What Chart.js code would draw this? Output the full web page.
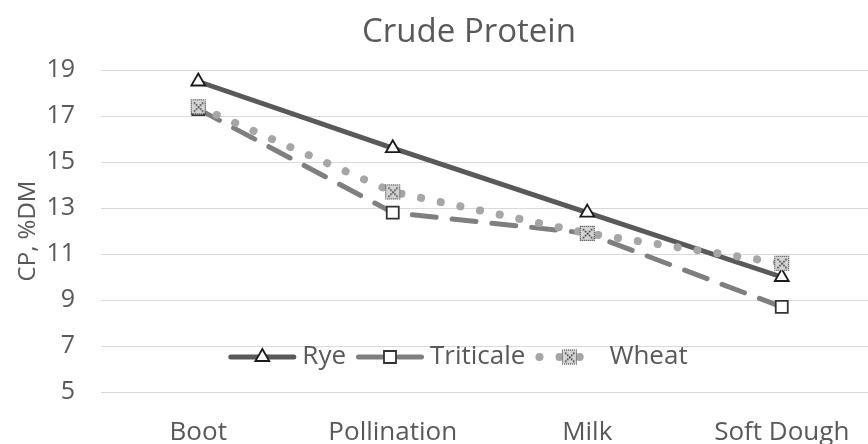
<!DOCTYPE html>
<html><head><meta charset="utf-8">
<script src="https://cdn.jsdelivr.net/npm/chart.js@4/dist/chart.umd.min.js"></script>
<style>
html,body{margin:0;padding:0;overflow:hidden;background:#fff;width:868px;height:444px}
#wrap{width:938px;height:444px}
</style></head>
<body><div id="wrap"><canvas id="c" width="938" height="444"></canvas></div>
<script>
const categories = ['Boot', 'Pollination', 'Milk', 'Soft Dough'];
const rye = [18.5, 15.6, 12.8, 10.0];
const triticale = [17.3, 12.8, 11.9, 8.7];
const wheat = [17.4, 13.7, 11.9, 10.6];
const yTicks = [5, 7, 9, 11, 13, 15, 17, 19];
const seriesNames = ['Rye', 'Triticale', 'Wheat'];
const chartTitle = 'Crude Protein';
const yTitle = 'CP, %DM';

const TEXT = '#595959';
const FONT = 'Open Sans';
Chart.defaults.font.family = FONT;

// patterned marker for Wheat
function makeWheatMarker() {
  const c = document.createElement('canvas');
  c.width = 17; c.height = 17;
  const g = c.getContext('2d');
  g.fillStyle = '#d4d4d4';
  g.beginPath();
  g.roundRect ? g.roundRect(1, 1, 15, 15, 4) : g.rect(1, 1, 15, 15);
  g.fill();
  g.fillStyle = '#2a2a2a';
  for (let i = 1; i < 16; i += 2) {
    g.fillRect(i, 1, 1, 1); g.fillRect(i, 15, 1, 1);
    g.fillRect(1, i, 1, 1); g.fillRect(15, i, 1, 1);
  }
  for (let i = 4; i <= 12; i += 2) {
    g.fillRect(i, i, 1.5, 1.5);
    g.fillRect(16 - i, i, 1.5, 1.5);
  }
  return c;
}
const wheatMarker = makeWheatMarker();

const innerLegend = {
  id: 'innerLegend',
  afterDatasetsDraw(chart) {
    const ctx = chart.ctx;
    const ds = chart.data.datasets;
    ctx.save();
    ctx.font = '26px "' + FONT + '"';
    const sampleW = 68, gap1 = 6, gap2 = 10;
    const widths = ds.map(d => ctx.measureText(d.label).width);
    const total = widths.reduce((a, w) => a + sampleW + gap1 + w, 0) + gap2 * (ds.length - 1);
    let x = chart.width / 2 - 11 - total / 2;
    const y = chart.chartArea.bottom - 35;
    ds.forEach((d, i) => {
      ctx.save();
      ctx.strokeStyle = d.borderColor;
      ctx.lineWidth = d.borderWidth;
      ctx.lineCap = d.borderCapStyle || 'butt';
      ctx.setLineDash(d.borderDash || []);
      ctx.beginPath();
      ctx.moveTo(x + d.borderWidth / 2, y);
      ctx.lineTo(x + sampleW - d.borderWidth / 2, y);
      ctx.stroke();
      ctx.setLineDash([]);
      ctx.fillStyle = d.pointBackgroundColor;
      ctx.strokeStyle = d.pointBorderColor;
      ctx.lineWidth = d.pointBorderWidth;
      Chart.helpers.drawPoint(ctx, {pointStyle: d.pointStyle, radius: d.pointRadius, borderWidth: d.pointBorderWidth, rotation: 0}, x + sampleW / 2, y);
      ctx.restore();
      ctx.fillStyle = TEXT;
      ctx.textBaseline = 'middle';
      ctx.textAlign = 'left';
      ctx.fillText(d.label, x + sampleW + gap1, y);
      x += sampleW + gap1 + widths[i] + gap2;
    });
    ctx.restore();
  }
};

new Chart(document.getElementById('c'), {
  type: 'line',
  data: {
    labels: categories,
    datasets: [
      {
        label: seriesNames[0], data: rye, order: 3,
        borderColor: '#595959', borderWidth: 5, borderCapStyle: 'round',
        pointStyle: 'triangle', pointRadius: 8, pointBorderWidth: 1.8,
        pointBackgroundColor: '#ffffff', pointBorderColor: '#1a1a1a',
        tension: 0
      },
      {
        label: seriesNames[1], data: triticale, order: 2,
        borderColor: '#7f7f7f', borderWidth: 5, borderCapStyle: 'round',
        borderDash: [24, 16],
        pointStyle: 'rect', pointRadius: 8.5, pointBorderWidth: 1.8,
        pointBackgroundColor: '#ffffff', pointBorderColor: '#333333',
        tension: 0
      },
      {
        label: seriesNames[2], data: wheat, order: 1,
        borderColor: '#a6a6a6', borderWidth: 8, borderCapStyle: 'round',
        borderDash: [0.1, 20],
        pointStyle: wheatMarker, pointRadius: 8, pointBorderWidth: 0,
        pointBackgroundColor: '#d4d4d4', pointBorderColor: '#2a2a2a',
        tension: 0
      }
    ]
  },
  options: {
    responsive: false, animation: false, devicePixelRatio: 1,
    layout: {padding: 0},
    plugins: {
      legend: {display: false},
      tooltip: {enabled: false},
      title: {
        display: true, text: chartTitle, color: TEXT,
        font: {family: FONT, size: 33, weight: 'normal'},
        padding: {top: 13, bottom: 17.4}
      }
    },
    scales: {
      x: {
        offset: true,
        grid: {display: false, drawTicks: false},
        border: {display: false},
        ticks: {color: TEXT, font: {size: 26}, padding: 25, maxRotation: 0, autoSkip: false},
        afterFit(s) { s.height = 52; }
      },
      y: {
        min: 5, max: 19,
        grid: {color: '#d9d9d9', lineWidth: 1, drawTicks: false},
        border: {display: false},
        ticks: {color: TEXT, font: {size: 25}, padding: 26},
        title: {display: true, text: yTitle, color: TEXT, font: {size: 24}, padding: {top: 14, bottom: 0}},
        afterBuildTicks(s) { s.ticks = yTicks.map(v => ({value: v})); },
        afterFit(s) { s.width = 101; }
      },
      yRight: {
        position: 'right', display: true, min: 5, max: 19,
        grid: {display: false, drawTicks: false},
        border: {display: false},
        ticks: {display: false},
        afterFit(s) { s.width = 59; }
      }
    }
  },
  plugins: [innerLegend]
});
</script>
</body></html>
